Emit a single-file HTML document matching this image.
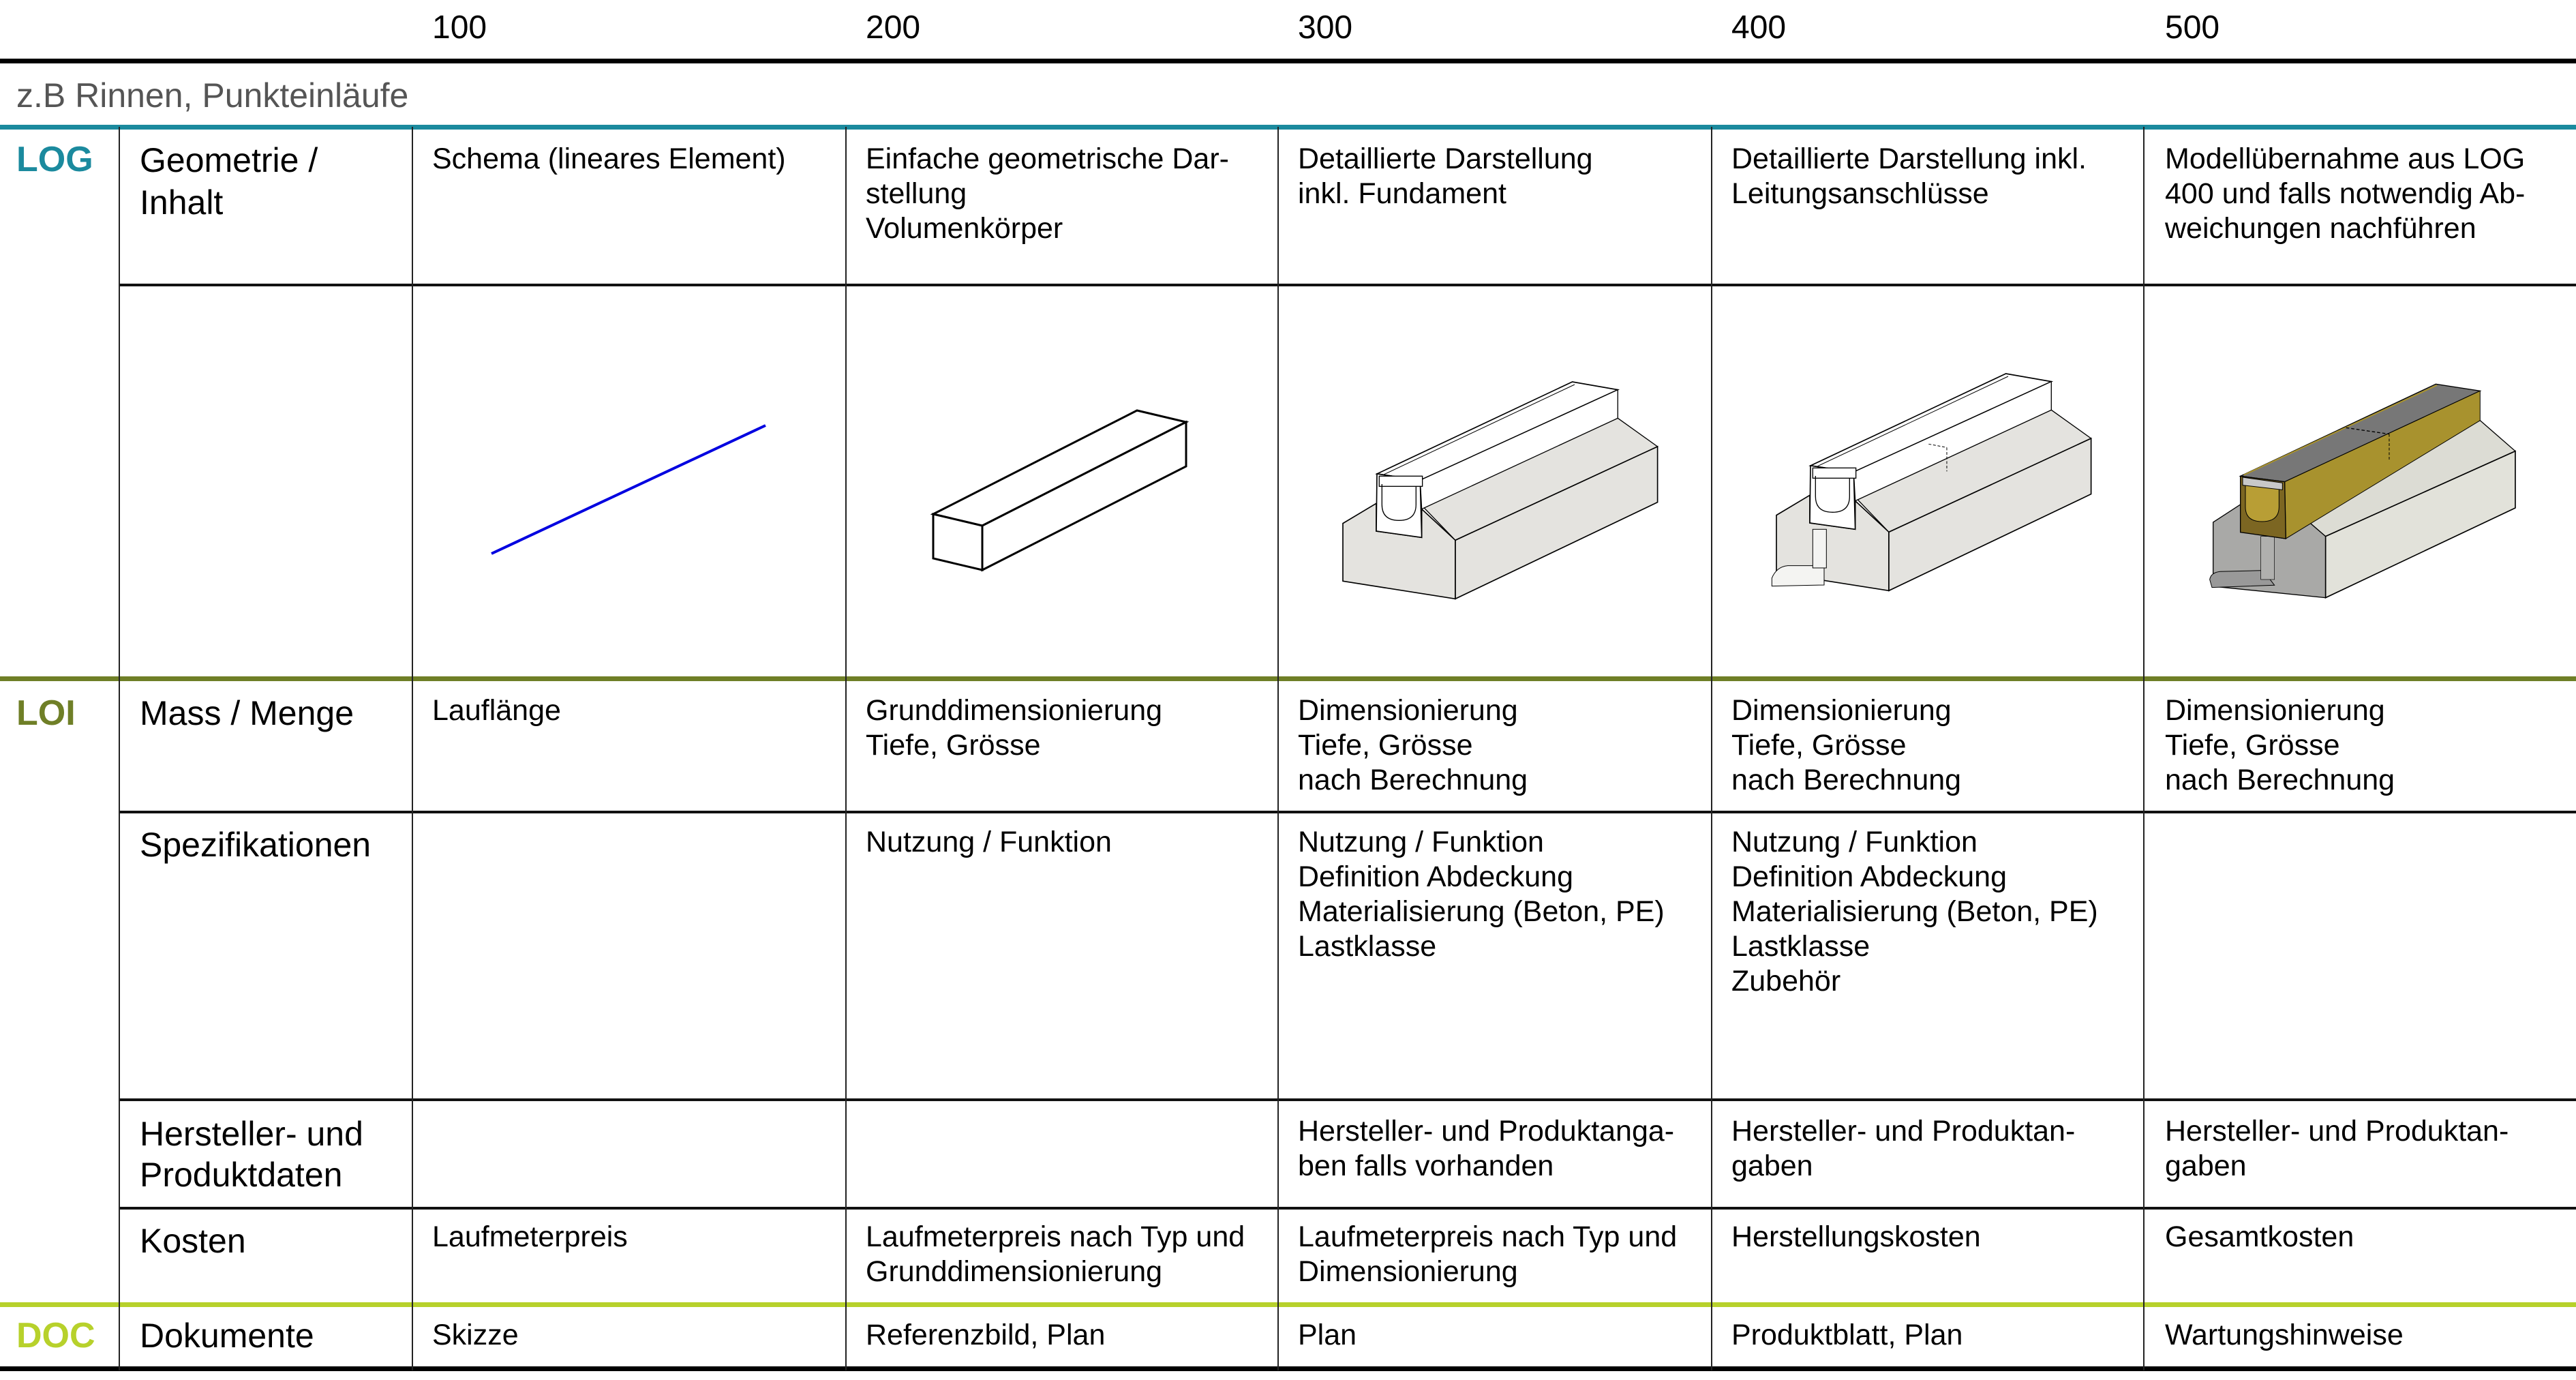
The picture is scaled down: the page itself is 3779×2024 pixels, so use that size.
<!DOCTYPE html>
<html><head><meta charset="utf-8"><style>
body{margin:0;width:3779px;height:2024px;background:#fff;position:relative;overflow:hidden;font-family:"Liberation Sans",Arial,sans-serif;color:#000}
.h{position:absolute;left:0;width:3779px}
.v{position:absolute;top:186px;height:1824px;width:2px;background:#222}
.t{position:absolute;white-space:nowrap}
.c{font-size:43px;line-height:51px}
.l{font-size:50px;line-height:60px}
.n{font-size:48px;line-height:60px}
.k{font-size:52px;font-weight:bold;line-height:60px}
</style></head><body>
<div class="h" style="top:86px;height:7px;background:#000"></div>
<div class="h" style="top:183px;height:7px;background:#1b8a9e"></div>
<div class="h" style="top:416px;height:4px;background:#111;left:174px;width:3605px"></div>
<div class="h" style="top:992px;height:7px;background:#6f7f27"></div>
<div class="h" style="top:1189px;height:4px;background:#111;left:174px;width:3605px"></div>
<div class="h" style="top:1611px;height:4px;background:#111;left:174px;width:3605px"></div>
<div class="h" style="top:1770px;height:4px;background:#111;left:174px;width:3605px"></div>
<div class="h" style="top:1910px;height:7px;background:#b7d12b"></div>
<div class="h" style="top:2004px;height:7px;background:#000"></div>
<div class="v" style="left:174px"></div>
<div class="v" style="left:604px"></div>
<div class="v" style="left:1240px"></div>
<div class="v" style="left:1874px"></div>
<div class="v" style="left:2510px"></div>
<div class="v" style="left:3144px"></div>

<div class="t n" style="left:634px;top:11px">100</div>
<div class="t n" style="left:1270px;top:11px">200</div>
<div class="t n" style="left:1904px;top:11px">300</div>
<div class="t n" style="left:2540px;top:11px">400</div>
<div class="t n" style="left:3176px;top:11px">500</div>
<div class="t l" style="left:24px;top:110px;color:#555">z.B Rinnen, Punkteinläufe</div>

<div class="t k" style="left:24px;top:204px;color:#1b8a9e">LOG</div>
<div class="t k" style="left:24px;top:1016px;color:#6f7f27">LOI</div>
<div class="t k" style="left:24px;top:1929px;color:#b7d12b">DOC</div>

<div class="t l" style="left:205px;top:204px;line-height:62px">Geometrie /<br>Inhalt</div>
<div class="t l" style="left:205px;top:1016px">Mass / Menge</div>
<div class="t l" style="left:205px;top:1209px">Spezifikationen</div>
<div class="t l" style="left:205px;top:1633px">Hersteller- und<br>Produktdaten</div>
<div class="t l" style="left:205px;top:1790px">Kosten</div>
<div class="t l" style="left:205px;top:1929px">Dokumente</div>

<div class="t c" style="left:634px;top:208px">Schema (lineares Element)</div>
<div class="t c" style="left:1270px;top:208px">Einfache geometrische Dar-<br>stellung<br>Volumenkörper</div>
<div class="t c" style="left:1904px;top:208px">Detaillierte Darstellung<br>inkl. Fundament</div>
<div class="t c" style="left:2540px;top:208px">Detaillierte Darstellung inkl.<br>Leitungsanschlüsse</div>
<div class="t c" style="left:3176px;top:208px">Modellübernahme aus LOG<br>400 und falls notwendig Ab-<br>weichungen nachführen</div>

<div class="t c" style="left:634px;top:1017px">Lauflänge</div>
<div class="t c" style="left:1270px;top:1017px">Grunddimensionierung<br>Tiefe, Grösse</div>
<div class="t c" style="left:1904px;top:1017px">Dimensionierung<br>Tiefe, Grösse<br>nach Berechnung</div>
<div class="t c" style="left:2540px;top:1017px">Dimensionierung<br>Tiefe, Grösse<br>nach Berechnung</div>
<div class="t c" style="left:3176px;top:1017px">Dimensionierung<br>Tiefe, Grösse<br>nach Berechnung</div>

<div class="t c" style="left:1270px;top:1210px">Nutzung / Funktion</div>
<div class="t c" style="left:1904px;top:1210px">Nutzung / Funktion<br>Definition Abdeckung<br>Materialisierung (Beton, PE)<br>Lastklasse</div>
<div class="t c" style="left:2540px;top:1210px">Nutzung / Funktion<br>Definition Abdeckung<br>Materialisierung (Beton, PE)<br>Lastklasse<br>Zubehör</div>

<div class="t c" style="left:1904px;top:1634px">Hersteller- und Produktanga-<br>ben falls vorhanden</div>
<div class="t c" style="left:2540px;top:1634px">Hersteller- und Produktan-<br>gaben</div>
<div class="t c" style="left:3176px;top:1634px">Hersteller- und Produktan-<br>gaben</div>

<div class="t c" style="left:634px;top:1789px">Laufmeterpreis</div>
<div class="t c" style="left:1270px;top:1789px">Laufmeterpreis nach Typ und<br>Grunddimensionierung</div>
<div class="t c" style="left:1904px;top:1789px">Laufmeterpreis nach Typ und<br>Dimensionierung</div>
<div class="t c" style="left:2540px;top:1789px">Herstellungskosten</div>
<div class="t c" style="left:3176px;top:1789px">Gesamtkosten</div>

<div class="t c" style="left:634px;top:1933px">Skizze</div>
<div class="t c" style="left:1270px;top:1933px">Referenzbild, Plan</div>
<div class="t c" style="left:1904px;top:1933px">Plan</div>
<div class="t c" style="left:2540px;top:1933px">Produktblatt, Plan</div>
<div class="t c" style="left:3176px;top:1933px">Wartungshinweise</div>

<svg width="3779" height="2024" style="position:absolute;left:0;top:0" xmlns="http://www.w3.org/2000/svg">
<defs>
<g id="rinne">
 <polygon points="90,683 237,595 237,717 437,745 437,620 585,757 585,1015 90,937" fill="#e4e3df" stroke="#000" stroke-width="5"/>
 <polygon points="445,612 1300,220 1475,345 585,757" fill="#e4e3df" stroke="#000" stroke-width="4"/>
 <polygon points="585,757 1475,345 1475,590 585,1015" fill="#e4e3df" stroke="#000" stroke-width="5"/>
 <polygon points="240,465 1100,60 1300,95 430,493" fill="#fff" stroke="#000" stroke-width="5"/>
 <line x1="255" y1="475" x2="1110" y2="72" stroke="#000" stroke-width="3"/>
 <polygon points="430,493 1300,95 1300,220 437,620" fill="#fff" stroke="#000" stroke-width="4"/>
 <polygon points="240,465 430,493 437,745 237,717" fill="#fff" stroke="#000" stroke-width="5"/>
 <rect x="250" y="475" width="190" height="45" fill="#fff" stroke="#000" stroke-width="4"/>
 <path d="M262,510 L262,600 Q262,670 337,670 Q412,670 412,600 L412,520" fill="none" stroke="#000" stroke-width="4"/>
</g>
</defs>
<line x1="721" y1="812" x2="1123" y2="624" stroke="#0000e0" stroke-width="4"/>
<g fill="#fff" stroke="#000" stroke-width="3">
 <polygon points="1369,754 1668,602 1740,619 1441,771"/>
 <polygon points="1441,771 1740,619 1740,684 1441,836"/>
 <polygon points="1369,754 1441,771 1441,836 1369,819"/>
</g>
<g transform="translate(1940,540) scale(0.3333)"><use href="#rinne"/></g>
<g transform="translate(2576,528) scale(0.3333)"><use href="#rinne"/>
 <path d="M70,960 Q90,910 140,905 L300,905 L300,990 L70,995 Z" fill="#f4f4f2" stroke="#000" stroke-width="3"/>
 <rect x="250" y="745" width="60" height="170" fill="#f4f4f2" stroke="#000" stroke-width="3"/>
 <line x1="760" y1="370" x2="840" y2="385" stroke="#000" stroke-width="3" stroke-dasharray="12,8"/>
 <line x1="840" y1="385" x2="840" y2="490" stroke="#000" stroke-width="3" stroke-dasharray="12,8"/>
</g>
<g transform="translate(3220,540) scale(0.3333)">
 <polygon points="80,678 200,600 200,720 400,750 430,615 575,740 575,1010 80,960" fill="#a9a9a7" stroke="#000" stroke-width="4"/>
 <polygon points="430,615 1255,230 1410,365 575,740" fill="#dcdcd4" stroke="#000" stroke-width="4"/>
 <polygon points="575,740 1410,365 1410,615 575,1010" fill="#e2e2da" stroke="#000" stroke-width="5"/>
 <path d="M65,930 Q70,900 110,895 L300,890 L350,955 L75,965 Z" fill="#999" stroke="#000" stroke-width="3"/>
 <rect x="290" y="740" width="60" height="190" fill="#b0b0ae" stroke="#000" stroke-width="2"/>
 <polygon points="200,475 1060,70 1255,100 395,500" fill="#777" stroke="#000" stroke-width="4"/>
 <line x1="215" y1="470" x2="1065" y2="75" stroke="#a8922e" stroke-width="6"/>
 <polygon points="395,500 1255,100 1255,230 400,750" fill="#a8922e" stroke="#000" stroke-width="3"/>
 <polygon points="200,475 395,500 400,750 200,722" fill="#7c6622" stroke="#000" stroke-width="4"/>
 <path d="M222,515 L222,610 Q222,675 295,675 Q370,675 370,610 L370,530 Z" fill="#b89e35" stroke="#000" stroke-width="3"/>
 <polygon points="210,480 385,505 385,535 210,515" fill="#c8c8c8" stroke="#000" stroke-width="3"/>
 <line x1="665" y1="262" x2="855" y2="290" stroke="#000" stroke-width="4" stroke-dasharray="14,9"/>
 <line x1="855" y1="290" x2="855" y2="410" stroke="#000" stroke-width="3" stroke-dasharray="12,8"/>
</g>
</svg>
</body></html>
